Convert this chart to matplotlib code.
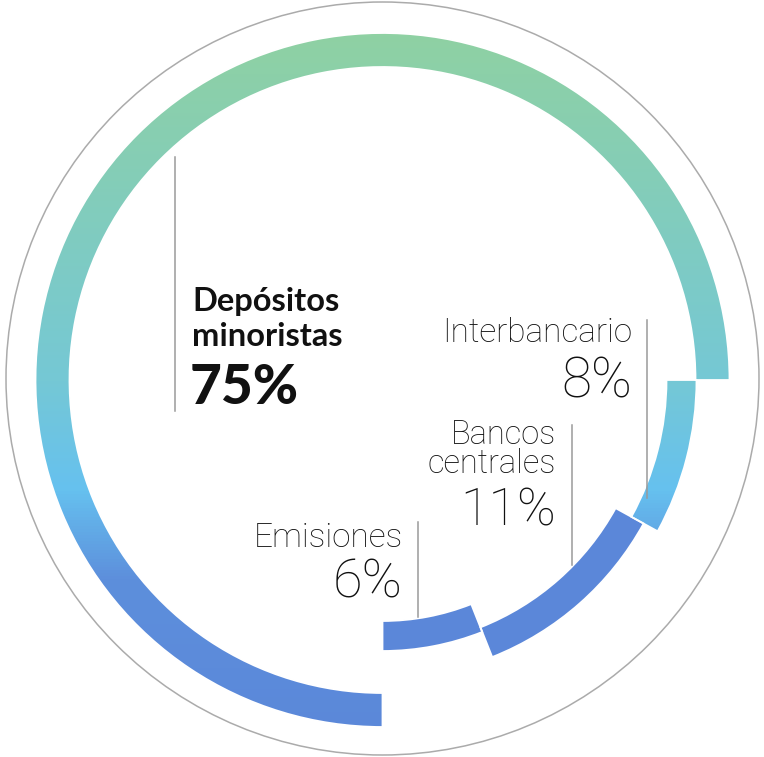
import numpy as np
import matplotlib.pyplot as plt
from matplotlib.patches import Wedge, Circle
from matplotlib.colors import LinearSegmentedColormap

# data
segments = ['Depósitos\nminoristas', 'Interbancario', 'Bancos\ncentrales', 'Emisiones']
shares = [75, 8, 11, 6]

W, H = 764, 757
cx, cy = 382.5, 380.0

fig = plt.figure(figsize=(W / 100, H / 100), dpi=100)
ax = fig.add_axes([0, 0, 1, 1])

# vertical gradient green -> teal -> sky blue -> blue (by pixel row)
stops = [(0, '#8FD1A3'), (33 / H, '#8FD1A3'), (380 / H, '#75C8D5'),
         (490 / H, '#66C1EF'), (580 / H, '#5D8FDC'), (1, '#5B87D9')]
grad = LinearSegmentedColormap.from_list('grad', stops)
rows = np.linspace(0, 1, H).reshape(-1, 1)

# ring geometry for each segment: inner radius, outer radius, gradient?
rings = [(313, 347, True), (284, 314, True), (266, 298, False), (241, 271, False)]

start = 90.0  # 6 o'clock, going clockwise on screen (y axis is flipped)
for share, (r0, r1, use_grad) in zip(shares, rings):
    span = share * 3.6
    w = Wedge((cx, cy), r1, start, start + span, width=r1 - r0)
    if use_grad:
        w.set_facecolor('none')
        w.set_edgecolor('none')
        ax.add_patch(w)
        im = ax.imshow(rows, cmap=grad, extent=[0, W, H, 0], aspect='auto',
                       origin='upper', vmin=0, vmax=1, zorder=1)
        im.set_clip_path(w)
    else:
        w.set_facecolor('#5B87D9')
        w.set_edgecolor('none')
        w.set_zorder(1)
        ax.add_patch(w)
    ax.add_patch(Wedge((cx, cy), r1, start, start + span, width=r1 - r0,
                       fc='none', ec='white', lw=1.3, zorder=2))
    start += span

# outer thin circle
ax.add_patch(Circle((382.5, 378.5), 376.5, fill=False, ec='#ABABAB', lw=1.1, zorder=0))

# leader lines
lc = '#9A9A9A'
ax.plot([175, 175], [157, 411], color=lc, lw=1.1)
ax.plot([646.5, 646.5], [320, 498], color=lc, lw=1.1)
ax.plot([572, 572], [425, 565], color=lc, lw=1.1)
ax.plot([418, 418], [522, 617], color=lc, lw=1.1)

fam = ['Lato', 'DejaVu Sans']
lite = ['Roboto', 'Lato', 'DejaVu Sans']
dark = '#111111'

# main label
n0 = segments[0].split('\n')
ax.text(192, 311, n0[0], family=fam, weight='bold', fontsize=23.5, color=dark, va='baseline', ha='left')
ax.text(192, 346, n0[1], family=fam, weight='bold', fontsize=23.5, color=dark, va='baseline', ha='left')
ax.text(190, 404, f'{shares[0]}%', family=fam, weight='black', fontsize=39.5, color=dark, va='baseline', ha='left')

# small labels
ax.text(632, 342, segments[1], family=lite, weight='light', fontsize=24, color=dark, va='baseline', ha='right')
ax.text(632, 398, f'{shares[1]}%', family=lite, weight='light', fontsize=39.5, color=dark, va='baseline', ha='right')

# baseline anchor of a two-line text is the last line
ax.text(556, 473, segments[2], family=lite, weight='light', fontsize=23.5, color=dark,
        va='baseline', ha='right', multialignment='right', linespacing=0.86)
ax.text(556, 526, f'{shares[2]}%', family=lite, weight='light', fontsize=37.5, color=dark, va='baseline', ha='right')

ax.text(403, 547, segments[3], family=lite, weight='light', fontsize=24, color=dark, va='baseline', ha='right')
ax.text(403, 598, f'{shares[3]}%', family=lite, weight='light', fontsize=39, color=dark, va='baseline', ha='right')

ax.set_xlim(0, W)
ax.set_ylim(H, 0)
ax.axis('off')

fig.savefig('out.png', dpi=100, facecolor='white')
